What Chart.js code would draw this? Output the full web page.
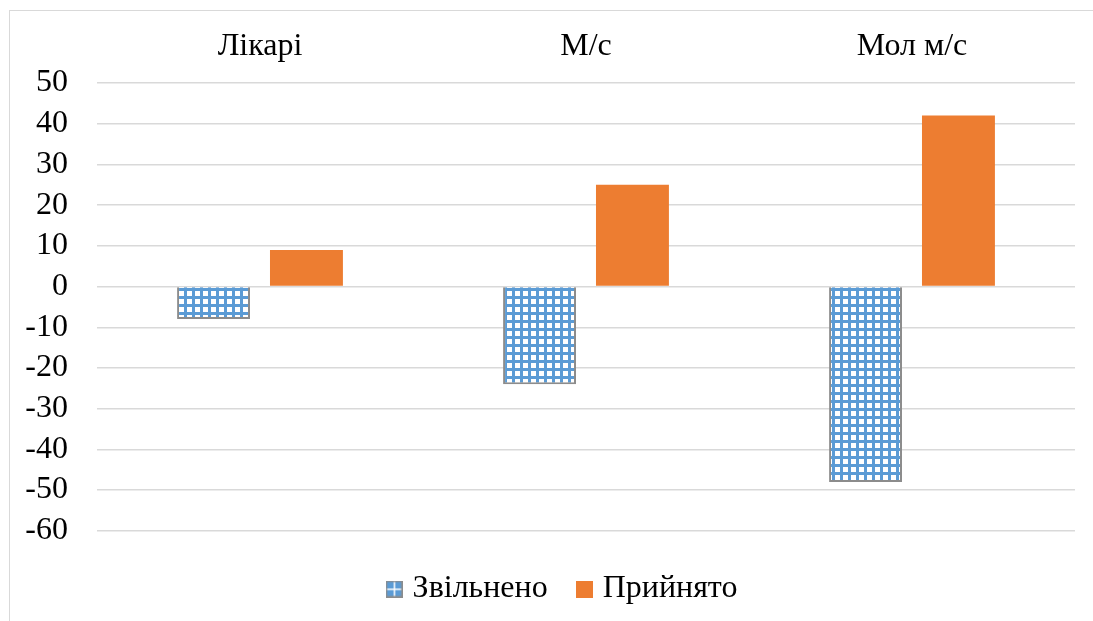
<!DOCTYPE html>
<html>
<head>
<meta charset="utf-8">
<script src="https://cdn.jsdelivr.net/npm/chart.js@4/dist/chart.umd.min.js"></script>
<style>
  html, body { margin: 0; padding: 0; background: #fff; overflow: hidden; }
  #frame {
    position: absolute; left: 9px; top: 10px; width: 1200px; height: 700px;
    border-left: 1.5px solid #d9d9d9; border-top: 1.5px solid #d9d9d9;
  }
  #wrap { position: absolute; left: 0; top: 0; width: 1093px; height: 621px; }
</style>
</head>
<body>
<div id="frame"></div>
<div id="wrap"><canvas id="c"></canvas></div>
<script>
// Staff movement by group
const categories = ['Лікарі', 'М/с', 'Мол м/с'];
const seriesNames = ['Звільнено', 'Прийнято'];
const dismissed = [-8, -24, -48];
const hired = [9, 25, 42];
const yMin = -60;
const yMax = 50;
const yStep = 10;

const FONT = { family: '"Liberation Serif", "Times New Roman", serif', size: 32 };
const BLUE = '#5B9BD5';
const ORANGE = '#ED7D31';
const GREY = '#8c8c8c';

// Checkered fill for the "dismissed" bars
function gridTile() {
  const t = document.createElement('canvas');
  t.width = 8; t.height = 8;
  const g = t.getContext('2d');
  g.fillStyle = '#fff';
  g.fillRect(0, 0, 8, 8);
  g.fillStyle = BLUE;
  g.fillRect(0, 0, 3, 8);
  g.fillRect(0, 0, 8, 3);
  return t;
}

// Legend markers
function dismissedMarker() {
  const c = document.createElement('canvas');
  c.width = 17; c.height = 17;
  const g = c.getContext('2d');
  g.fillStyle = BLUE;
  g.fillRect(1, 1, 15, 15);
  g.fillStyle = '#fff';
  g.fillRect(8, 1, 1.5, 15);
  g.fillRect(1, 8, 15, 1.5);
  g.strokeStyle = GREY;
  g.lineWidth = 1.5;
  g.strokeRect(0.75, 0.75, 15.5, 15.5);
  return c;
}
function hiredMarker() {
  const c = document.createElement('canvas');
  c.width = 17; c.height = 17;
  const g = c.getContext('2d');
  g.fillStyle = ORANGE;
  g.fillRect(0, 0, 17, 17);
  return c;
}

// Moves the legend row a little to the right of the page centre
const legendShift = {
  id: 'legendShift',
  afterLayout(chart) {
    const lg = chart.legend;
    if (lg) { lg.left += 27; lg.right += 27; }
  }
};

const canvas = document.getElementById('c');
const pattern = canvas.getContext('2d').createPattern(gridTile(), 'repeat');
const markers = [dismissedMarker(), hiredMarker()];

new Chart(canvas, {
  type: 'bar',
  plugins: [legendShift],
  data: {
    labels: categories,
    datasets: [
      {
        label: seriesNames[0],
        data: dismissed,
        backgroundColor: pattern,
        borderColor: GREY,
        borderWidth: 2,
        categoryPercentage: 0.57,
        barPercentage: 0.785
      },
      {
        label: seriesNames[1],
        data: hired,
        backgroundColor: ORANGE,
        borderWidth: 0,
        categoryPercentage: 0.57,
        barPercentage: 0.785
      }
    ]
  },
  options: {
    responsive: true,
    maintainAspectRatio: false,
    animation: false,
    layout: { padding: { left: 0, right: 18, top: 0, bottom: 6 } },
    scales: {
      x: {
        position: 'top',
        grid: { display: false, drawTicks: false },
        border: { display: false },
        ticks: { color: '#000', font: FONT, padding: 17 },
        afterFit: s => { s.height = 83; }
      },
      y: {
        min: yMin,
        max: yMax,
        grid: { color: '#d9d9d9', lineWidth: 1.5, drawTicks: false },
        border: { display: false },
        ticks: { stepSize: yStep, autoSkip: false, color: '#000', font: FONT, padding: 29 },
        afterFit: s => { s.width = 97; }
      }
    },
    plugins: {
      tooltip: { enabled: false },
      legend: {
        position: 'bottom',
        title: { display: true, text: '', font: { size: 1 }, padding: { top: 7, bottom: 0 } },
        labels: {
          color: '#000',
          font: FONT,
          usePointStyle: true,
          boxWidth: 5,
          padding: 34,
          generateLabels: chart => chart.data.datasets.map((d, i) => ({
            text: d.label,
            pointStyle: markers[i],
            fontColor: '#000',
            hidden: false,
            datasetIndex: i,
            lineWidth: 0
          }))
        }
      }
    }
  }
});
</script>
</body>
</html>
